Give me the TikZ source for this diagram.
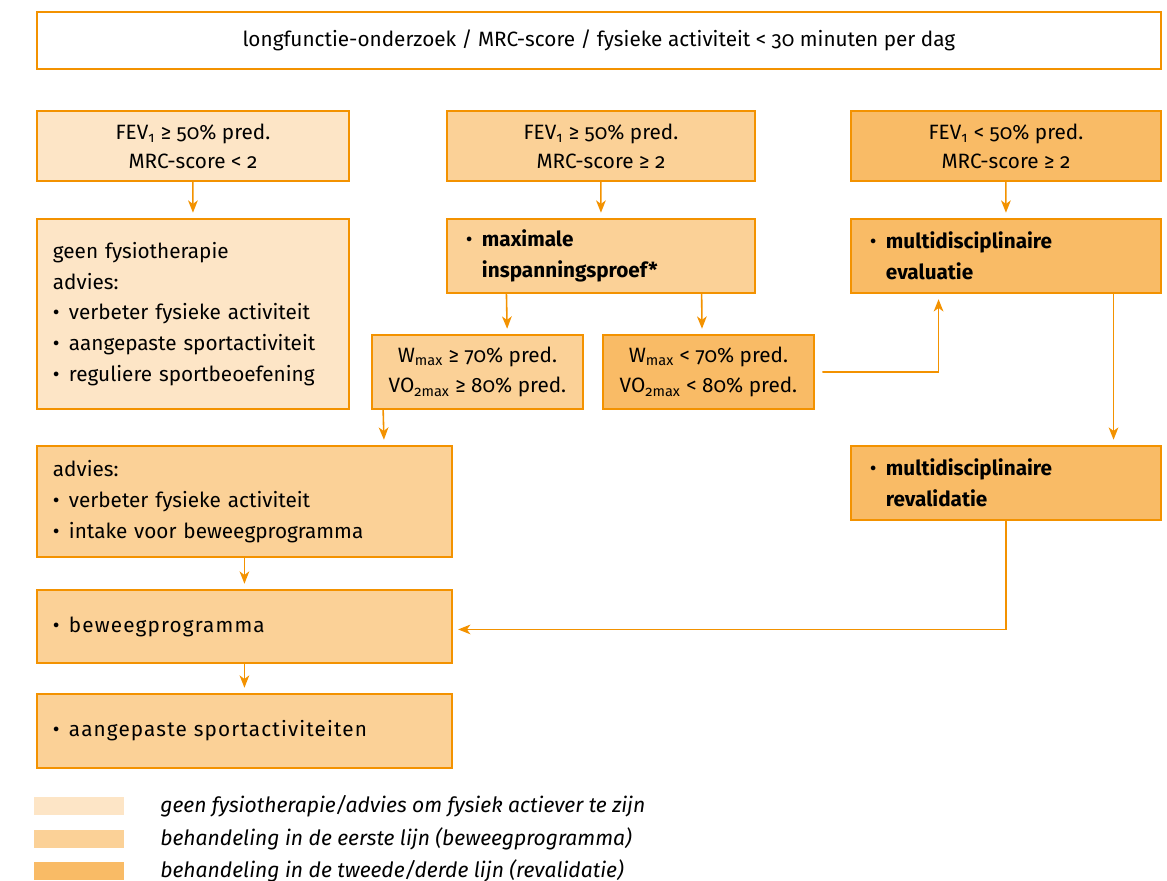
\documentclass[tikz,border=0pt]{standalone}
\usepackage{fontspec}
\setmainfont[Numbers=OldStyle]{Fira Sans}
\usepackage{tikz}
\usetikzlibrary{arrows.meta,calc}

\definecolor{lijn}{HTML}{F39200}
\definecolor{licht}{HTML}{FDE5C6}
\definecolor{midden}{HTML}{FBD197}
\definecolor{donker}{HTML}{F9BB66}

\newcommand{\bul}{\makebox[0.32cm][l]{\textbullet}}
\newcommand{\ind}{\hspace*{0.32cm}}

\begin{document}
\begin{tikzpicture}[line cap=round,>={Stealth[length=7pt,width=5.5pt,inset=2pt]},x=0.02cm,y=-0.02cm,
	font=\fontsize{11.8}{17.5}\selectfont,
	vak/.style={draw=lijn,line width=1.1pt,anchor=north west,inner xsep=0.32cm,inner ysep=0pt},
	midvak/.style={vak,align=center},
	linksvak/.style={vak,align=left},
	pijl/.style={->,draw=lijn,line width=0.9pt,shorten >=3pt},
	kleur/.style={fill=#1,minimum width=1.8cm,minimum height=0.36cm,inner sep=0pt},
	legtekst/.style={anchor=west,inner sep=0pt,font=\fontsize{12}{14}\selectfont\itshape}]
	\useasboundingbox (0,0) rectangle (1167,881);

	% bovenste vak
	\node[midvak,minimum width=22.48cm,minimum height=1.14cm] (onderzoek) at (36,11)
		{longfunctie-onderzoek / MRC-score / fysieke activiteit < 30 minuten per dag};

	% drie groepen
	\node[midvak,fill=licht,minimum width=6.24cm,minimum height=1.4cm] (fevA) at (36,110)
		{FEV\textsubscript{1} ≥ 50\% pred.\\[-1pt]MRC-score < 2};
	\node[midvak,fill=midden,minimum width=6.16cm,minimum height=1.4cm] (fevB) at (446,110)
		{FEV\textsubscript{1} ≥ 50\% pred.\\[-1pt]MRC-score ≥ 2};
	\node[midvak,fill=donker,minimum width=6.2cm,minimum height=1.4cm] (fevC) at (850,110)
		{FEV\textsubscript{1} < 50\% pred.\\[-1pt]MRC-score ≥ 2};

	\node[linksvak,fill=licht,text width=5.6cm,minimum height=3.8cm] (geen) at (36,218)
		{geen fysiotherapie\\advies:\\\bul verbeter fysieke activiteit\\\bul aangepaste sportactiviteit\\\bul reguliere sportbeoefening};
	\node[linksvak,fill=midden,text width=5.4cm,inner xsep=0.38cm,minimum height=1.48cm] (maxi) at (446,218)
		{\bul\textbf{maximale}\\\ind\textbf{inspanningsproef*}};
	\node[linksvak,fill=donker,text width=5.44cm,inner xsep=0.38cm,minimum height=1.48cm] (evaluatie) at (850,218)
		{\bul\textbf{multidisciplinaire}\\\ind\textbf{evaluatie}};

	\node[midvak,fill=midden,inner xsep=0pt,minimum width=4.22cm,minimum height=1.48cm] (whoog) at (371,334)
		{W\textsubscript{max} ≥ 70\% pred.\\VO\textsubscript{2max} ≥ 80\% pred.};
	\node[midvak,fill=donker,inner xsep=0pt,minimum width=4.22cm,minimum height=1.48cm] (wlaag) at (602,334)
		{W\textsubscript{max} < 70\% pred.\\VO\textsubscript{2max} < 80\% pred.};

	\node[linksvak,fill=donker,text width=5.44cm,inner xsep=0.38cm,minimum height=1.48cm] (revalidatie) at (850,445)
		{\bul\textbf{multidisciplinaire}\\\ind\textbf{revalidatie}};

	\node[linksvak,fill=midden,text width=7.66cm,minimum height=2.22cm] (advies) at (36,445)
		{advies:\\\bul verbeter fysieke activiteit\\\bul intake voor beweegprogramma};
	\node[linksvak,fill=midden,text width=7.66cm,minimum height=1.46cm] (beweeg) at (36,589)
		{\addfontfeature{LetterSpace=5.5}\bul beweegprogramma};
	\node[linksvak,fill=midden,text width=7.66cm,minimum height=1.48cm] (sport) at (36,693)
		{\addfontfeature{LetterSpace=5.5}\bul aangepaste sportactiviteiten};

	% pijlen
	\draw[pijl] (fevA) -- (geen);
	\draw[pijl] (fevB) -- (maxi);
	\draw[pijl] (fevC) -- (evaluatie);
	\draw[pijl] ($(maxi.south west)!.195!(maxi.south east)$) -- ($(whoog.north west)!.64!(whoog.north east)$);
	\draw[pijl] ($(maxi.south west)!.825!(maxi.south east)$) -- ($(wlaag.north west)!.47!(wlaag.north east)$);
	\coordinate (evin) at ($(evaluatie.south west)!.284!(evaluatie.south east)$);
	\draw[pijl] ([xshift=0.16cm]wlaag.east) -- (wlaag.east -| evin) -- (evin);
	\draw[pijl] ($(evaluatie.south west)!.845!(evaluatie.south east)$) -- ($(revalidatie.north west)!.845!(revalidatie.north east)$);
	\draw[pijl] ($(whoog.south west)!.057!(whoog.south east)$) -- ($(advies.north west)!.835!(advies.north east)$);
	\draw[pijl] (advies) -- (beweeg);
	\draw[pijl] (beweeg) -- (sport);
	\draw[pijl] (revalidatie.south) |- ([yshift=-0.06cm]beweeg.east);

	% legenda
	\node[kleur=licht] (k1) at (79,806) {};
	\node[kleur=midden] (k2) at (79,839) {};
	\node[kleur=donker] (k3) at (79,871) {};
	\node[legtekst] (t1) at (160,806) {geen fysiotherapie/advies om fysiek actiever te zijn};
	\node[legtekst] (t2) at (160,839) {behandeling in de eerste lijn (beweegprogramma)};
	\node[legtekst] (t3) at (160,871) {behandeling in de tweede/derde lijn (revalidatie)};
\end{tikzpicture}
\end{document}
